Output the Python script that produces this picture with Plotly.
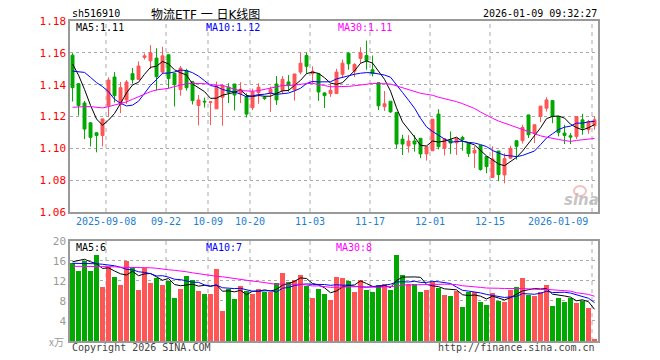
import numpy as np
import pandas as pd
import plotly.graph_objects as go

# ---------------- data ----------------
opens = [1.1585, 1.1406, 1.1285, 1.1160, 1.1098, 1.1081, 1.1267, 1.1448, 1.1277, 1.1304,
         1.1469, 1.1433, 1.1571, 1.1550, 1.1567, 1.1479, 1.1588, 1.1471, 1.1369, 1.1488,
         1.1419, 1.1269, 1.1296, 1.1288, 1.1248, 1.1321, 1.1384, 1.1404, 1.1346, 1.1325,
         1.1255, 1.1350, 1.1321, 1.1346, 1.1404, 1.1363, 1.1417, 1.1367, 1.1479, 1.1583,
         1.1469, 1.1469, 1.1348, 1.1344, 1.1344, 1.1465, 1.1598, 1.1485, 1.1565, 1.1583,
         1.1494, 1.1413, 1.1262, 1.1296, 1.1225, 1.1058, 1.1015, 1.1046, 1.1063, 1.0965,
         1.0985, 1.1215, 1.1000, 1.1054, 1.1035, 1.1068, 1.1033, 1.0971, 1.1018, 1.0948,
         1.0817, 1.0983, 1.0833, 1.0938, 1.1048, 1.1048, 1.1210, 1.1096, 1.1200, 1.1252,
         1.1300, 1.1200, 1.1096, 1.1079, 1.1075, 1.1179, 1.1117, 1.1142]
highs = [1.1598, 1.1410, 1.1298, 1.1165, 1.1100, 1.1185, 1.1446, 1.1479, 1.1417, 1.1429,
         1.1504, 1.1546, 1.1596, 1.1648, 1.1629, 1.1638, 1.1590, 1.1473, 1.1517, 1.1500,
         1.1420, 1.1335, 1.1319, 1.1292, 1.1419, 1.1405, 1.1409, 1.1404, 1.1416, 1.1346,
         1.1375, 1.1409, 1.1329, 1.1388, 1.1454, 1.1454, 1.1460, 1.1467, 1.1602, 1.1602,
         1.1515, 1.1469, 1.1354, 1.1406, 1.1500, 1.1558, 1.1604, 1.1535, 1.1635, 1.1677,
         1.1583, 1.1413, 1.1360, 1.1296, 1.1230, 1.1085, 1.1083, 1.1083, 1.1065, 1.1010,
         1.1183, 1.1246, 1.1065, 1.1106, 1.1065, 1.1079, 1.1033, 1.1013, 1.1018, 1.0948,
         1.1013, 1.0983, 1.0969, 1.1017, 1.1048, 1.1148, 1.1210, 1.1148, 1.1267, 1.1321,
         1.1300, 1.1200, 1.1148, 1.1096, 1.1200, 1.1217, 1.1179, 1.1200]
lows = [1.1294, 1.1206, 1.1058, 1.1012, 1.0975, 1.1012, 1.1196, 1.1288, 1.1221, 1.1279,
        1.1406, 1.1433, 1.1558, 1.1498, 1.1363, 1.1465, 1.1377, 1.1263, 1.1331, 1.1363,
        1.1275, 1.1144, 1.1256, 1.1146, 1.1248, 1.1142, 1.1284, 1.1238, 1.1284, 1.1194,
        1.1240, 1.1280, 1.1304, 1.1229, 1.1273, 1.1346, 1.1356, 1.1300, 1.1465, 1.1469,
        1.1406, 1.1298, 1.1254, 1.1323, 1.1344, 1.1444, 1.1494, 1.1448, 1.1535, 1.1494,
        1.1452, 1.1240, 1.1235, 1.1223, 1.1000, 1.0958, 1.0973, 1.0979, 1.0938, 1.0923,
        1.0985, 1.0994, 1.0955, 1.0965, 1.0958, 1.0985, 1.0946, 1.0877, 1.0860, 1.0843,
        1.0815, 1.0794, 1.0780, 1.0935, 1.0929, 1.1030, 1.1065, 1.1033, 1.1165, 1.1231,
        1.1158, 1.1075, 1.1027, 1.1027, 1.1058, 1.1085, 1.1092, 1.1117]
closes = [1.1381, 1.1269, 1.1121, 1.1069, 1.1081, 1.1185, 1.1429, 1.1331, 1.1381, 1.1417,
          1.1431, 1.1517, 1.1581, 1.1600, 1.1450, 1.1581, 1.1438, 1.1400, 1.1504, 1.1381,
          1.1300, 1.1304, 1.1292, 1.1292, 1.1388, 1.1394, 1.1350, 1.1335, 1.1371, 1.1215,
          1.1354, 1.1384, 1.1313, 1.1371, 1.1304, 1.1434, 1.1396, 1.1467, 1.1535, 1.1515,
          1.1483, 1.1354, 1.1331, 1.1365, 1.1479, 1.1535, 1.1531, 1.1527, 1.1600, 1.1552,
          1.1469, 1.1267, 1.1280, 1.1229, 1.1027, 1.1027, 1.1046, 1.1027, 1.0965, 1.1010,
          1.1183, 1.1010, 1.1060, 1.1033, 1.1063, 1.1055, 1.0967, 1.0988, 1.0867, 1.0885,
          1.0933, 1.0835, 1.0935, 1.1000, 1.1013, 1.1131, 1.1085, 1.1148, 1.1265, 1.1304,
          1.1200, 1.1100, 1.1081, 1.1071, 1.1200, 1.1127, 1.1169, 1.1179]
volumes = [15.6, 14.1, 16.1, 14.1, 17.2, 10.8, 14.8, 12.9, 11.3, 16.0,
           14.6, 10.3, 14.7, 11.7, 12.6, 11.3, 12.0, 8.7, 10.5, 13.1,
           12.3, 10.1, 9.5, 9.5, 14.5, 6.0, 10.5, 8.5, 11.1, 10.0,
           9.5, 10.5, 9.9, 9.9, 11.7, 13.7, 11.9, 12.3, 13.3, 11.1,
           8.7, 10.5, 9.5, 8.3, 12.9, 12.7, 12.1, 9.9, 12.3, 10.3,
           9.9, 11.3, 11.5, 10.3, 17.3, 13.3, 11.5, 11.5, 9.9, 10.3,
           11.8, 10.7, 9.3, 9.1, 10.1, 6.9, 9.9, 9.9, 7.9, 7.3,
           9.7, 8.1, 7.9, 10.3, 10.9, 12.7, 9.3, 9.1, 9.9, 11.3,
           7.1, 8.7, 7.9, 8.7, 7.7, 8.1, 6.7, 0.4]

# moving-average values at the start of the window (need history before the chart)
ma5_head = [1.153, 1.146, 1.137, 1.127]
ma10_head = [1.1485, 1.1481, 1.1477, 1.1446, 1.1413, 1.1388, 1.1356, 1.1308, 1.1283]
ma30_head = [1.1258, 1.1262, 1.1262, 1.1262, 1.1256, 1.1254, 1.1262, 1.1271, 1.1279, 1.1292,
             1.1308, 1.1325, 1.1342, 1.1356, 1.1367, 1.1373, 1.1377, 1.1388, 1.1398, 1.1406,
             1.1408, 1.1408, 1.1406, 1.1402, 1.1396, 1.1396, 1.1383, 1.1371, 1.1363]
vma5_head = [15.8, 16.0, 16.3, 15.8]
vma10_head = [15.5, 15.5, 15.5, 15.5, 15.4, 15.3, 15.2, 15.0, 14.7]
vma30_head = [14.9, 14.9, 14.9, 14.9, 14.8, 14.8, 14.8, 14.8, 14.7, 14.7,
              14.6, 14.6, 14.6, 14.6, 14.5, 14.3, 14.2, 14.1, 14.0, 13.8,
              13.6, 13.4, 13.2, 13.0, 12.9, 12.8, 12.6, 12.4, 12.2]

tick_idx = [6, 16, 23, 30, 40, 50, 60, 70, 87]
tick_labels = ["2025-09-08", "09-22", "10-09", "10-20", "11-03", "11-17", "12-01", "12-15", "2026-01-09"]
price_ticks = [1.06, 1.08, 1.10, 1.12, 1.14, 1.16, 1.18]
vol_ticks = [4, 8, 12, 16, 20]

code_text = "sh516910"
title_text = "物流ETF 一 日K线图"
time_text = "2026-01-09 09:32:27"
ma_price_labels = ["MA5:1.11", "MA10:1.12", "MA30:1.11"]
ma_vol_labels = ["MA5:6", "MA10:7", "MA30:8"]

# ---------------- helpers ----------------
RED = "#ff5555"
GREEN = "#00a800"
MA_COLORS = ["#000000", "#0000ff", "#ff00ff"]
MONO = "DejaVu Sans Mono"

x = np.arange(len(closes))


def moving(values, n, head):
    s = pd.Series(values, dtype=float).rolling(n).mean().to_numpy()
    s[:n - 1] = head
    return s


ma_p = [moving(closes, 5, ma5_head), moving(closes, 10, ma10_head), moving(closes, 30, ma30_head)]
ma_v = [moving(volumes, 5, vma5_head), moving(volumes, 10, vma10_head), moving(volumes, 30, vma30_head)]
vol_colors = [RED if c >= o else GREEN for o, c in zip(opens, closes)]

# the page body has an 8px margin, so the figure is drawn 8px in from the window corner
OFF = 8
W, H = 660 - OFF, 360 - OFF
L, T = 70 - OFF, 21 - OFF
R = W - (598 - OFF)
B = H - (341 - OFF)
PW, PH = W - L - R, H - T - B


def px(page_x):
    return (page_x - OFF - L) / PW


def py(page_y):
    return (H - B - (page_y - OFF)) / PH


main_dom = [py(212), 1.0]
vol_dom = [0.0, py(240.7)]

fig = go.Figure()

fig.add_trace(go.Candlestick(
    x=x, open=opens, high=highs, low=lows, close=closes,
    increasing=dict(line=dict(color=RED, width=1), fillcolor=RED),
    decreasing=dict(line=dict(color=GREEN, width=1), fillcolor=GREEN),
    whiskerwidth=0, hoverinfo="skip", showlegend=False,
    xaxis="x", yaxis="y"))

for m, c in zip(ma_p, MA_COLORS):
    fig.add_trace(go.Scatter(x=x, y=m, mode="lines", line=dict(color=c, width=1),
                             hoverinfo="skip", showlegend=False, xaxis="x", yaxis="y"))

fig.add_trace(go.Bar(x=x, y=volumes, marker=dict(color=vol_colors, line=dict(width=0)),
                     width=0.83, hoverinfo="skip", showlegend=False, xaxis="x2", yaxis="y2"))

for m, c in zip(ma_v, MA_COLORS):
    fig.add_trace(go.Scatter(x=x, y=m, mode="lines", line=dict(color=c, width=1),
                             hoverinfo="skip", showlegend=False, xaxis="x2", yaxis="y2"))

xr = [-0.42, len(closes) - 0.42]
axis_common = dict(showline=True, mirror=True, linecolor="#999999", linewidth=1.5,
                   zeroline=False, ticks="")

fig.update_layout(
    width=W, height=H, margin=dict(l=L, r=R, t=T, b=B, autoexpand=False),
    paper_bgcolor="white", plot_bgcolor="white",
    font=dict(family=MONO, size=10, color="#000"),
    showlegend=False, bargap=0,
    xaxis=dict(domain=[0, 1], range=xr, anchor="y", showgrid=False, showticklabels=False,
               rangeslider=dict(visible=False), **axis_common),
    yaxis=dict(domain=main_dom, range=[1.06, 1.18], anchor="x",
               tickvals=price_ticks, ticktext=[f"{v:.2f}" for v in price_ticks],
               tickfont=dict(color="#ff0000", size=11, family=MONO),
               showgrid=True, gridcolor="#aaaaaa", griddash="dot", gridwidth=1,
               **axis_common),
    xaxis2=dict(domain=[0, 1], range=xr, anchor="y2", showgrid=False, showticklabels=False,
                matches="x", **axis_common),
    yaxis2=dict(domain=vol_dom, range=[0, 20], anchor="x2",
                tickvals=vol_ticks, ticktext=[str(v) for v in vol_ticks],
                tickfont=dict(color="#999999", size=11, family=MONO),
                showgrid=True, gridcolor="#aaaaaa", griddash="dot", gridwidth=1,
                **axis_common),
)

# dashed vertical grid lines at the date ticks
shapes = []
for ti in tick_idx:
    for yref in ("y domain", "y2 domain"):
        xref = "x" if yref == "y domain" else "x2"
        shapes.append(dict(type="line", xref=xref, yref=yref, x0=ti - 0.42, x1=ti - 0.42,
                           y0=0, y1=1, line=dict(color="#aaaaaa", width=1, dash="4px,4px"),
                           layer="below"))
# sina watermark eye (logo mark)
shapes.append(dict(type="circle", xref="paper", yref="paper",
                   x0=px(574), x1=px(586), y0=py(196), y1=py(186),
                   line=dict(color="rgba(240,150,150,0.6)", width=2), fillcolor="rgba(0,0,0,0)"))
fig.update_layout(shapes=shapes)

ann = []
# date labels
for k, (ti, lab) in enumerate(zip(tick_idx, tick_labels)):
    last = k == len(tick_idx) - 1
    ann.append(dict(x=ti - 0.42 - (0.3 if last else 0), y=py(221), xref="x", yref="paper",
                    text=lab, showarrow=False, xanchor="right" if last else "center",
                    yanchor="middle", font=dict(color="#1e80d0", size=10, family=MONO)))

# header
ann.append(dict(x=px(70), y=py(13), xref="paper", yref="paper", text=code_text, showarrow=False,
                xanchor="left", yanchor="middle", font=dict(size=10, family=MONO, color="#000")))
ann.append(dict(x=px(150), y=py(14.5), xref="paper", yref="paper", text=title_text, showarrow=False,
                xanchor="left", yanchor="middle", borderpad=0,
                font=dict(size=12, family="DejaVu Sans, Noto Sans CJK SC", color="#000")))
ann.append(dict(x=px(599), y=py(13), xref="paper", yref="paper", text=time_text, showarrow=False,
                xanchor="right", yanchor="middle", font=dict(size=10, family=MONO, color="#000")))

# MA legends
for lab, c, xx in zip(ma_price_labels, MA_COLORS, [74, 204, 336]):
    ann.append(dict(x=px(xx), y=py(27), xref="paper", yref="paper", text=lab, showarrow=False,
                    xanchor="left", yanchor="middle", font=dict(size=10, family=MONO, color=c)))
for lab, c, xx in zip(ma_vol_labels, MA_COLORS, [74, 204, 334]):
    ann.append(dict(x=px(xx), y=py(247), xref="paper", yref="paper", text=lab, showarrow=False,
                    xanchor="left", yanchor="middle", font=dict(size=10, family=MONO, color=c)))

# footer
ann.append(dict(x=px(66), y=py(341), xref="paper", yref="paper", text="x万", showarrow=False,
                xanchor="right", yanchor="middle",
                font=dict(size=10, family="Noto Sans CJK SC", color="#999999")))
ann.append(dict(x=px(70), y=py(347), xref="paper", yref="paper", text="Copyright 2026 SINA.COM",
                showarrow=False, xanchor="left", yanchor="middle",
                font=dict(size=10, family=MONO, color="#444444")))
ann.append(dict(x=px(597), y=py(347), xref="paper", yref="paper", text="http://finance.sina.com.cn",
                showarrow=False, xanchor="right", yanchor="middle",
                font=dict(size=10, family=MONO, color="#444444")))
# watermark
ann.append(dict(x=px(581), y=py(200), xref="paper", yref="paper", text="<b><i>sina</i></b>",
                showarrow=False, xanchor="center", yanchor="middle",
                font=dict(size=15, family="DejaVu Sans", color="rgba(170,170,170,0.7)")))

fig.update_layout(annotations=ann)

fig.write_html("out.html")
